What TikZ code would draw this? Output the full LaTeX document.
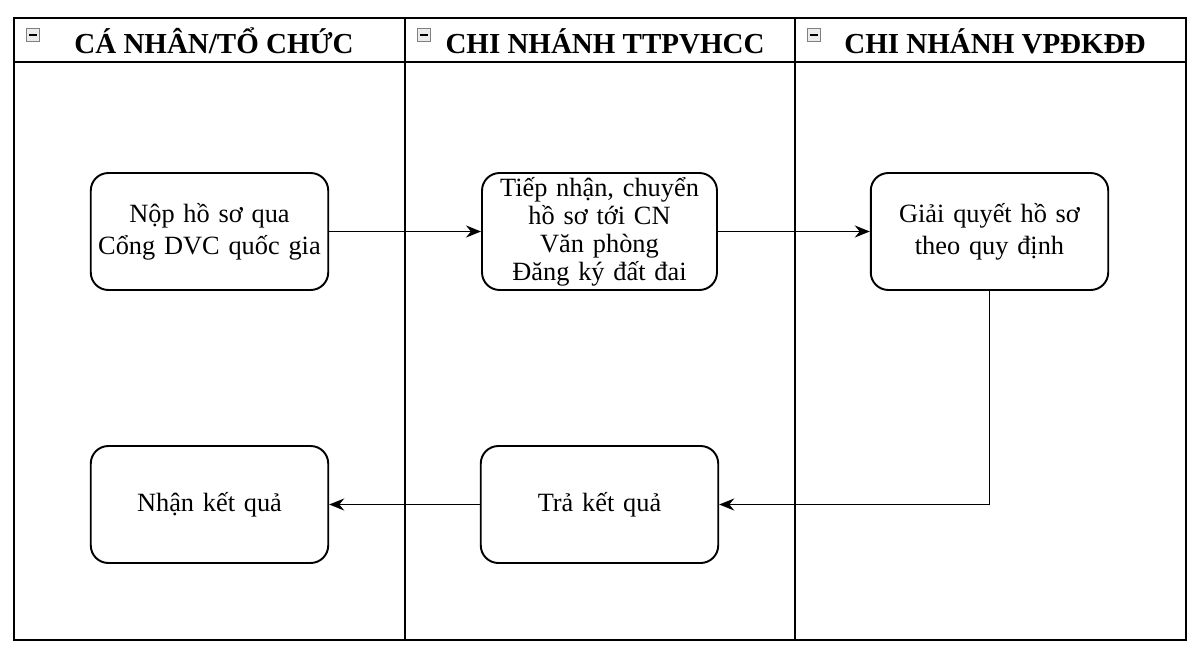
\documentclass[tikz,border=0pt]{standalone}
\usepackage{fontspec}
\setmainfont{Liberation Serif}
\usetikzlibrary{arrows.meta,positioning}
\tikzset{
	%Define standard arrow tip
	>={Stealth[length=0.3cm,width=0.24cm]},
	%Define style for boxes
	buoc/.style={
		rectangle,
		rounded corners=10pt,
		draw=black, line width=1.1pt,
		text width=4.75cm,
		minimum width=4.7cm,
		minimum height=2.34cm,
		inner sep=0pt,
		font=\fontsize{15}{18}\selectfont,
		text centered},
	% Define header style
	tieude/.style={font=\bfseries\fontsize{16.5}{19}\selectfont},
	% Define collapse icon style
	nut/.style={draw=gray, fill=gray!15, minimum size=0.26cm, inner sep=0pt},
	% Define arrow style
	mui/.style={
		->,
		line width=1.1pt}
}
\begin{document}
\begin{tikzpicture}[x=0.02cm, y=-0.02cm]
	\useasboundingbox (0,0) rectangle (1200,652);
	
	% lanes
	\draw[line width=1.1pt] (14,18) rectangle (1186,640);
	\draw[line width=1.1pt] (14,62) -- (1186,62);
	\draw[line width=1.1pt] (405,18) -- (405,640);
	\draw[line width=1.1pt] (795,18) -- (795,640);
	
	\foreach \x/\ten/\chu in {14/a/{CÁ NHÂN/TỔ CHỨC}, 405/b/{CHI NHÁNH TTPVHCC}, 795/c/{CHI NHÁNH VPĐKĐĐ}} {
		\node[nut] (nut\ten) at (\x+19,35) {};
		\draw[thick] ([xshift=1.5pt]nut\ten.west) -- ([xshift=-1.5pt]nut\ten.east);
		\node[tieude, anchor=center] (tieude\ten) at (\x+200,41) {\chu};
	}
	
	\node[buoc] (nop) at (209.5,231.5) {Nộp hồ sơ qua Cổng DVC quốc gia};
	\node[buoc, text width=4.3cm, font=\fontsize{15}{16}\selectfont] (tiepnhan) at (599.5,231.5) {Tiếp nhận, chuyển hồ sơ tới CN Văn phòng Đăng ký đất đai};
	\node[buoc] (giaiquyet) at (989.5,231.5) {Giải quyết hồ sơ theo quy định};
	\node[buoc] (nhan) at (209.5,504.5) {Nhận kết quả};
	\node[buoc] (tra) at (599.5,504.5) {Trả kết quả};
	
	\draw[mui] (nop.east) -- (tiepnhan.west);
	\draw[mui] (tiepnhan.east) -- (giaiquyet.west);
	\draw[mui] (giaiquyet.south) |- (tra.east);
	\draw[mui] (tra.west) -- (nhan.east);
	
\end{tikzpicture}
\end{document}
